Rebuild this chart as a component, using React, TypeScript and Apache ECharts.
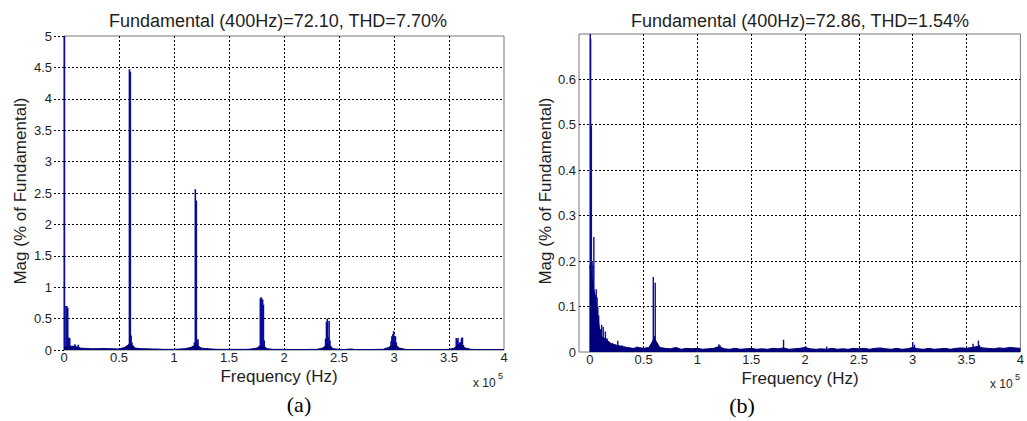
import React, { useEffect, useRef } from 'react';
import * as echarts from 'echarts';

const TITLE_A = 'Fundamental (400Hz)=72.10, THD=7.70%';
const TITLE_B = 'Fundamental (400Hz)=72.86, THD=1.54%';
const X_LABEL = 'Frequency (Hz)';
const Y_LABEL = 'Mag (% of Fundamental)';

// noise floor sampled every 5 kHz (Hz)
const FLOOR_FREQ = [
  0, 5000, 10000, 15000, 20000, 25000, 30000, 35000, 40000, 45000,
  50000, 55000, 60000, 65000, 70000, 75000, 80000, 85000, 90000, 95000,
  100000, 105000, 110000, 115000, 120000, 125000, 130000, 135000, 140000, 145000,
  150000, 155000, 160000, 165000, 170000, 175000, 180000, 185000, 190000, 195000,
  200000, 205000, 210000, 215000, 220000, 225000, 230000, 235000, 240000, 245000,
  250000, 255000, 260000, 265000, 270000, 275000, 280000, 285000, 290000, 295000,
  300000, 305000, 310000, 315000, 320000, 325000, 330000, 335000, 340000, 345000,
  350000, 355000, 360000, 365000, 370000, 375000, 380000, 385000, 390000, 395000,
  400000,
];

// (a) noise floor (% of fundamental)
const FLOOR_A = [
  0.05, 0.06, 0.06, 0.03, 0.025, 0.02, 0.02, 0.025, 0.02, 0.02,
  0.015, 0.04, 0.1, 0.03, 0.02, 0.02, 0.015, 0.015, 0.01, 0.01,
  0.01, 0.015, 0.02, 0.04, 0.08, 0.03, 0.02, 0.015, 0.01, 0.01,
  0.01, 0.01, 0.01, 0.01, 0.015, 0.03, 0.06, 0.02, 0.01, 0.01,
  0.01, 0.008, 0.008, 0.008, 0.008, 0.01, 0.01, 0.03, 0.08, 0.02,
  0.01, 0.008, 0.015, 0.008, 0.008, 0.008, 0.008, 0.01, 0.01, 0.04,
  0.1, 0.03, 0.01, 0.008, 0.008, 0.008, 0.008, 0.008, 0.008, 0.008,
  0.01, 0.03, 0.1, 0.03, 0.01, 0.008, 0.008, 0.008, 0.008, 0.008,
  0.008,
];

// (b) noise floor (% of fundamental)
const FLOOR_B = [
  0.19, 0.12, 0.035, 0.028, 0.018, 0.015, 0.012, 0.01, 0.008, 0.01,
  0.008, 0.01, 0.03, 0.01, 0.008, 0.007, 0.01, 0.006, 0.008, 0.007,
  0.008, 0.006, 0.007, 0.008, 0.012, 0.007, 0.006, 0.008, 0.006, 0.007,
  0.008, 0.006, 0.007, 0.006, 0.008, 0.007, 0.009, 0.006, 0.007, 0.008,
  0.01, 0.007, 0.006, 0.007, 0.006, 0.008, 0.006, 0.007, 0.006, 0.008,
  0.007, 0.008, 0.006, 0.008, 0.009, 0.007, 0.006, 0.008, 0.006, 0.007,
  0.01, 0.007, 0.006, 0.008, 0.006, 0.007, 0.008, 0.006, 0.008, 0.009,
  0.008, 0.01, 0.012, 0.009, 0.008, 0.007, 0.009, 0.008, 0.01, 0.009,
  0.008,
];

// (a) spectral lines
const SPIKE_FREQ_A = [
  400, 1800, 2600, 3400, 4400, 5200, 6000, 8500, 10000, 13000,
  56500, 57500, 58500, 59500, 60300, 61000, 61800, 62600, 63500,
  116500, 117500, 118500, 119400, 120300, 121000, 121800, 122800, 124000, 130000,
  176500, 177500, 178500, 179200, 179900, 180600, 181300, 182000, 183000,
  237000, 237800, 238600, 239400, 240200, 241000, 241800, 242600, 262000,
  296500, 297300, 298100, 298900, 299700, 300500, 301300, 302100, 303000,
  355800, 356600, 357400, 358200, 359000, 359800, 360600, 361400, 362200, 363000, 363800,
];
const SPIKE_MAG_A = [
  100, 0.7, 0.7, 0.67, 0.2, 0.19, 0.06, 0.06, 0.09, 0.085,
  0.03, 0.05, 0.08, 4.47, 4.43, 0.23, 0.12, 0.07, 0.04,
  0.04, 0.05, 0.12, 2.56, 2.38, 0.15, 0.17, 0.05, 0.03, 0.03,
  0.04, 0.07, 0.82, 0.84, 0.82, 0.8, 0.72, 0.15, 0.05,
  0.06, 0.18, 0.45, 0.5, 0.2, 0.46, 0.15, 0.06, 0.02,
  0.05, 0.14, 0.22, 0.25, 0.3, 0.2, 0.22, 0.12, 0.06,
  0.05, 0.19, 0.15, 0.19, 0.1, 0.12, 0.13, 0.19, 0.2, 0.08, 0.04,
];

// (b) spectral lines
const SPIKE_FREQ_B = [
  400, 800, 1500, 2200, 3000, 3800, 4500, 5200, 6000, 6800,
  7500, 8300, 9100, 10000, 11000, 12500, 13500, 14500, 16000, 18000,
  21000, 26000, 30000, 44000, 59000, 60000, 60800, 62000, 120000, 121000,
  180000, 200500, 220000, 300000, 301600, 356000, 361000, 362000,
];
const SPIKE_MAG_B = [
  100, 0.688, 0.498, 0.2, 0.19, 0.253, 0.13, 0.125, 0.138, 0.12,
  0.1, 0.08, 0.035, 0.05, 0.06, 0.055, 0.03, 0.045, 0.03, 0.022,
  0.02, 0.025, 0.015, 0.012, 0.165, 0.035, 0.152, 0.012, 0.017, 0.015,
  0.027, 0.013, 0.012, 0.022, 0.016, 0.018, 0.025, 0.015,
];

const FONT = 'Liberation Sans, Arial, sans-serif';
const NAVY = '#00007a';
const SPIKE = '#0a0a9a';
const TXT = '#1e1e1e';

function gridLine() {
  return {
    show: true,
    showMinLine: false,
    showMaxLine: false,
    lineStyle: { color: '#000', type: [2, 2], width: 1 },
  };
}

export default function App() {
  const ref = useRef<HTMLDivElement>(null);
  useEffect(() => {
    const chart = echarts.init(ref.current!, null, { renderer: 'svg' });
    const tickLabel = { fontSize: 13, color: TXT, fontFamily: FONT };
    const option: any = {
      animation: false,
      backgroundColor: '#fff',
      grid: [
        { left: 64, top: 36, width: 440, height: 314, show: true, borderColor: '#777', borderWidth: 1 },
        { left: 579, top: 34, width: 444, height: 318, show: true, borderColor: '#777', borderWidth: 1 },
      ],
      xAxis: [
        {
          gridIndex: 0, type: 'value', min: 0, max: 400000, interval: 50000,
          axisLine: { show: false }, axisTick: { show: false },
          axisLabel: { ...tickLabel, margin: 1, formatter: (v: number) => String(v / 1e5) },
          splitLine: gridLine(),
        },
        {
          gridIndex: 1, type: 'value', min: -10000, max: 400000, splitNumber: 8,
          minInterval: 50000, maxInterval: 50000,
          axisLine: { show: false }, axisTick: { show: false },
          axisLabel: {
            ...tickLabel, margin: 1, showMinLabel: false,
            formatter: (v: number) => (v < 0 ? '' : String(v / 1e5)),
          },
          splitLine: gridLine(),
        },
      ],
      yAxis: [
        {
          gridIndex: 0, type: 'value', min: 0, max: 5, interval: 0.5,
          axisLine: { show: false },
          axisTick: { show: true, inside: false, length: 10, lineStyle: { color: '#000', type: [2, 2] } },
          axisLabel: { ...tickLabel, margin: 12 },
          splitLine: gridLine(),
        },
        {
          gridIndex: 1, type: 'value', min: 0, max: 0.699, interval: 0.1,
          axisLine: { show: false }, axisTick: { show: false },
          axisLabel: { ...tickLabel, margin: 3, showMaxLabel: false },
          splitLine: gridLine(),
        },
      ],
      series: [
        {
          type: 'line', xAxisIndex: 0, yAxisIndex: 0, silent: true,
          data: FLOOR_FREQ.map((f, i) => [f, FLOOR_A[i]]),
          symbol: 'none', lineStyle: { color: NAVY, width: 1 },
          areaStyle: { color: NAVY, opacity: 1 },
        },
        {
          type: 'bar', xAxisIndex: 0, yAxisIndex: 0, silent: true, clip: true,
          data: SPIKE_FREQ_A.map((f, i) => [f, SPIKE_MAG_A[i]]),
          barWidth: 1.6, itemStyle: { color: SPIKE },
        },
        {
          type: 'line', xAxisIndex: 1, yAxisIndex: 1, silent: true,
          data: FLOOR_FREQ.map((f, i) => [f, FLOOR_B[i]]),
          symbol: 'none', lineStyle: { color: NAVY, width: 1 },
          areaStyle: { color: NAVY, opacity: 1 },
        },
        {
          type: 'bar', xAxisIndex: 1, yAxisIndex: 1, silent: true, clip: true,
          data: SPIKE_FREQ_B.map((f, i) => [f, SPIKE_MAG_B[i]]),
          barWidth: 1.4, itemStyle: { color: SPIKE },
        },
      ],
      graphic: [
        { type: 'text', x: 278, y: 21, style: { text: TITLE_A, font: `18px ${FONT}`, fill: TXT, align: 'center', verticalAlign: 'middle' } },
        { type: 'text', x: 800, y: 21, style: { text: TITLE_B, font: `18px ${FONT}`, fill: TXT, align: 'center', verticalAlign: 'middle' } },
        { type: 'text', x: 279, y: 376, style: { text: X_LABEL, font: `17px ${FONT}`, fill: TXT, align: 'center', verticalAlign: 'middle' } },
        { type: 'text', x: 800, y: 378, style: { text: X_LABEL, font: `17px ${FONT}`, fill: TXT, align: 'center', verticalAlign: 'middle' } },
        { type: 'text', x: 20, y: 191, rotation: Math.PI / 2, style: { text: Y_LABEL, font: `17px ${FONT}`, fill: TXT, align: 'center', verticalAlign: 'middle' } },
        { type: 'text', x: 545, y: 191, rotation: Math.PI / 2, style: { text: Y_LABEL, font: `17px ${FONT}`, fill: TXT, align: 'center', verticalAlign: 'middle' } },
        { type: 'text', x: 473, y: 383, style: { text: 'x 10', font: `12px ${FONT}`, fill: TXT, align: 'left', verticalAlign: 'middle' } },
        { type: 'text', x: 498, y: 376, style: { text: '5', font: `9px ${FONT}`, fill: TXT, align: 'left', verticalAlign: 'middle' } },
        { type: 'text', x: 990, y: 384, style: { text: 'x 10', font: `12px ${FONT}`, fill: TXT, align: 'left', verticalAlign: 'middle' } },
        { type: 'text', x: 1015, y: 377, style: { text: '5', font: `9px ${FONT}`, fill: TXT, align: 'left', verticalAlign: 'middle' } },
        { type: 'text', x: 299, y: 404, style: { text: '(a)', font: `22px Liberation Serif, Times New Roman, serif`, fill: '#000', align: 'center', verticalAlign: 'middle' } },
        { type: 'text', x: 742, y: 405, style: { text: '(b)', font: `22px Liberation Serif, Times New Roman, serif`, fill: '#000', align: 'center', verticalAlign: 'middle' } },
      ],
    };
    chart.setOption(option);
    return () => chart.dispose();
  }, []);
  return (
    <div
      ref={ref}
      style={{ position: 'fixed', left: 0, top: 0, width: 1027, height: 421, background: '#fff' }}
    />
  );
}
